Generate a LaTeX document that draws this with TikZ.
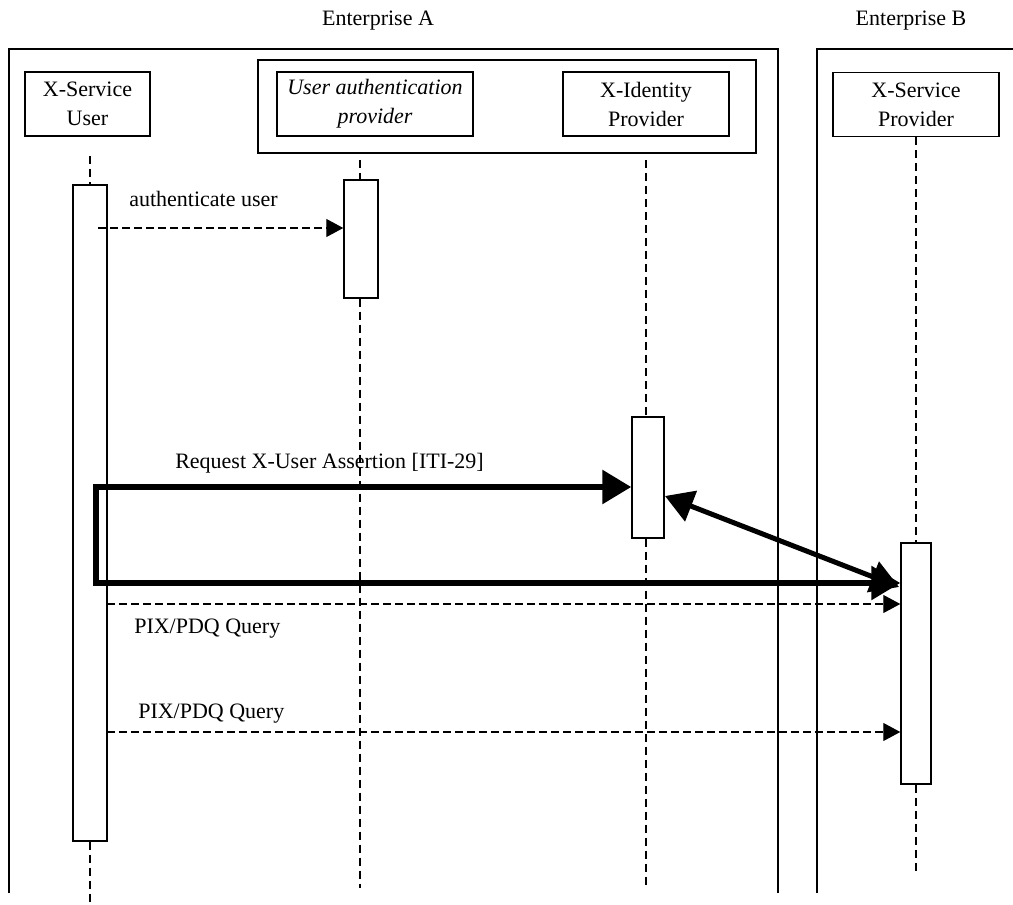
\documentclass[tikz,border=0pt]{standalone}
\usepackage{fontspec}
\setmainfont{Liberation Serif}
\usetikzlibrary{arrows.meta,calc}
\begin{document}
\begin{tikzpicture}[x=0.75pt,y=-0.75pt,
  font=\fontsize{16.5pt}{21.75pt}\selectfont,
  frame/.style={line width=1.1pt},
  actor/.style={draw,line width=1.1pt,minimum height=48pt,inner sep=0pt,align=center},
  act/.style={draw,line width=1.1pt,fill=white,inner sep=0pt},
  life/.style={line width=0.9pt,dash pattern=on 6pt off 3.75pt},
  msg/.style={line width=0.9pt,dash pattern=on 6pt off 3pt,-{Triangle[length=12.75pt,width=13.5pt]}},
  bigmsg/.style={line width=4.5pt,line join=miter,{Triangle[length=21.75pt,width=24.75pt]}-{Triangle[length=21.75pt,width=24.75pt]}},
  diagmsg/.style={line width=3.75pt,{Triangle[length=21pt,width=24pt]}-{Triangle[length=21pt,width=24pt]}},
  lbl/.style={anchor=base west,inner sep=0pt}
]
\useasboundingbox (0,0) rectangle (1013,905);

% enterprise titles
\node[anchor=base,inner sep=0pt] (entA) at (378,26) {Enterprise A};
\node[anchor=base,inner sep=0pt] (entB) at (911,26) {Enterprise B};

% enterprise frames
\draw[frame] (9,893) -- (9,49) -- (778,49) -- (778,893);
\draw[frame] (817,893) -- (817,49) -- (1013,49);

% inner group box
\draw[frame] (258,60) rectangle (756,153);

% participants
\node[actor,minimum width=93.75pt] (user) at (87.5,104) {X-Service\\User};
\node[actor,minimum width=147pt,font=\fontsize{16.5pt}{21.75pt}\selectfont\itshape] (uap) at (375,104) {User authentication\\provider};
\node[actor,minimum width=124.5pt] (xidp) at (646,104) {X-Identity\\Provider};
\node[actor,minimum width=124.5pt] (xsp) at (916,104.5) {X-Service\\Provider};

% activation boxes
\node[act,minimum width=25.5pt,minimum height=492pt] (useract) at (90,513) {};
\node[act,minimum width=25.5pt,minimum height=88.5pt] (uapact) at (361,239) {};
\node[act,minimum width=24pt,minimum height=90.75pt] (xidpact) at (648,477.5) {};
\node[act,minimum width=22.5pt,minimum height=180.75pt] (xspact) at (916,663.5) {};

% lifelines
\coordinate (uTop) at (90,156);
\coordinate (uBot) at (90,905);
\coordinate (aTop) at (360,160);
\coordinate (aBot) at (360,888);
\coordinate (iTop) at (646,160);
\coordinate (iBot) at (646,888);
\coordinate (sBot) at (916,875);
\draw[life] (uTop) -- (useract.north);
\draw[life] (useract.south) -- (uBot);
\draw[life] (aTop) -- (aTop |- uapact.north);
\draw[life] (aTop |- uapact.south) -- (aBot);
\draw[life] (iTop) -- (iTop |- xidpact.north);
\draw[life] (iTop |- xidpact.south) -- (iBot);
\draw[life] (xsp.south) -- (xspact.north);
\draw[life] (xspact.south) -- (sBot);

% authenticate user
\coordinate (m1) at (98,228);
\draw[msg] (m1) -- (m1 -| uapact.west);
\node[lbl] (m1l) at (129,207) {authenticate user};

% Request X-User Assertion
\coordinate (r1) at (96,487);
\coordinate (r2) at (96,583);
\draw[bigmsg] (r1 -| xidpact.west) -- (r1) -- (r2) -- (r2 -| xspact.west);
\node[lbl] (rl) at (175,468) {Request X-User Assertion [ITI-29]};

% diagonal
\coordinate (d1) at (665,496);
\coordinate (d2) at (899,587);
\draw[diagmsg] (d1) -- (d2);

% PIX/PDQ queries
\coordinate (p1) at (107,604);
\draw[msg] (p1) -- (p1 -| xspact.west);
\node[lbl] (p1l) at (134,633) {PIX/PDQ Query};
\coordinate (p2) at (107,732);
\draw[msg] (p2) -- (p2 -| xspact.west);
\node[lbl] (p2l) at (138,718) {PIX/PDQ Query};
\end{tikzpicture}
\end{document}
